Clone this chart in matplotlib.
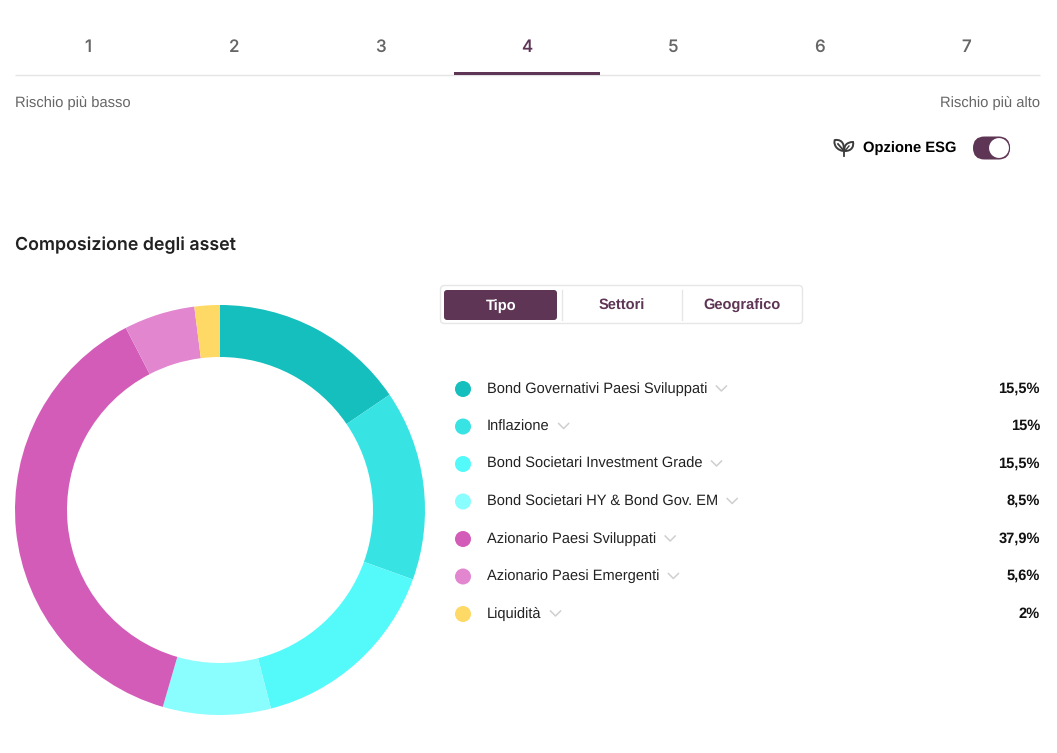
import matplotlib
matplotlib.use('Agg')
import matplotlib.pyplot as plt
from matplotlib.patches import FancyBboxPatch, Circle, PathPatch, Rectangle
from matplotlib.path import Path

plt.rcParams['text.hinting'] = 'no_hinting'
plt.rcParams['text.hinting_factor'] = 8

### DATA ###
risk_levels = ['1', '2', '3', '4', '5', '6', '7']
active_level = '4'
categories = ['Bond Governativi Paesi Sviluppati', 'Inflazione', 'Bond Societari Investment Grade',
              'Bond Societari HY & Bond Gov. EM', 'Azionario Paesi Sviluppati',
              'Azionario Paesi Emergenti', 'Liquidità']
values = [15.5, 15, 15.5, 8.5, 37.9, 5.6, 2]
value_labels = ['15,5%', '15%', '15,5%', '8,5%', '37,9%', '5,6%', '2%']
colors = ['#14bfbd', '#38e3e3', '#54fafa', '#8afdff', '#d35cb8', '#e386d0', '#ffd966']
tabs = ['Tipo', 'Settori', 'Geografico']

W, H = 1057, 753
PLUM = '#5e3555'
BODY = 'Liberation Sans'
HEAD = 'Inter'


def px(n):
    # font size in points for a size in pixels at dpi 100
    return n * 0.72


fig = plt.figure(figsize=(W / 100, H / 100), dpi=100, facecolor='white')

# page layer, in pixels with the origin top left
ax = fig.add_axes([0, 0, 1, 1])
ax.set_xlim(0, W)
ax.set_ylim(H, 0)
ax.axis('off')

### RISK SCALE ###
for i, level in enumerate(risk_levels):
    x = 88 + i * 146.5
    col = PLUM if level == active_level else '#666666'
    ax.text(x - 0.5, 47, level, ha='center', va='center', fontsize=px(17), color=col,
            family=HEAD, fontweight='medium')
ax.plot([15, 1040], [75.2, 75.2], color='#e4e4e4', lw=1, solid_capstyle='butt')
ax.add_patch(Rectangle((453.5, 72), 146.5, 3, fc=PLUM, ec='none', zorder=3))

ax.text(15, 102.5, 'Rischio più basso', ha='left', va='center', fontsize=px(14.7), color='#666666', family=BODY)
ax.text(1040, 102.5, 'Rischio più alto', ha='right', va='center', fontsize=px(14.7), color='#666666', family=BODY)

### ESG TOGGLE ###
leaf_style = dict(fc='none', ec='#3c3c3c', lw=1.4)
ax.add_patch(PathPatch(Path([(843, 151), (833, 149), (834, 140), (835, 140), (843, 139), (845, 146), (843, 151)],
                            [Path.MOVETO, Path.CURVE4, Path.CURVE4, Path.CURVE4, Path.CURVE4, Path.CURVE4, Path.CURVE4]),
                       **leaf_style))
ax.add_patch(PathPatch(Path([(845, 151), (852, 151), (854, 146), (853, 142), (847, 142), (843, 146), (845, 151)],
                            [Path.MOVETO, Path.CURVE4, Path.CURVE4, Path.CURVE4, Path.CURVE4, Path.CURVE4, Path.CURVE4]),
                       **leaf_style))
ax.plot([838, 844, 844], [144, 151, 156], color='#3c3c3c', lw=1.3)
ax.plot([844, 849], [152, 146], color='#3c3c3c', lw=1)

ax.text(863, 148.5, 'Opzione ESG', ha='left', va='center', fontsize=px(14.7), color='#000000',
        family=BODY, fontweight='bold')
ax.add_patch(FancyBboxPatch((973, 136.5), 37, 23, boxstyle='round,pad=0,rounding_size=11.5',
                            fc=PLUM, ec='none'))
ax.add_patch(Circle((999, 148), 10.5, fc='white', ec=PLUM, lw=0.8, zorder=3))

### HEADING ###
ax.text(15, 245.5, 'Composizione degli asset', ha='left', va='center', fontsize=px(17.8), color='#222222',
        family=HEAD, fontweight='semibold')

### TAB SWITCH ###
ax.add_patch(FancyBboxPatch((440.5, 285.5), 362, 38, boxstyle='round,pad=0,rounding_size=4',
                            fc='white', ec='#e6e6e6', lw=1))
ax.add_patch(FancyBboxPatch((444, 290), 113, 30, boxstyle='round,pad=0,rounding_size=3',
                            fc=PLUM, ec='none'))
for x in [561.5, 681.5]:
    ax.plot([x, x], [290, 320], color='#e6e6e6', lw=1)
for name, x in zip(tabs, [501.5, 622, 742]):
    col = 'white' if name == tabs[0] else PLUM
    ax.text(x, 306, name, ha='center', va='center', fontsize=px(14.6), color=col, family=BODY, fontweight='bold')

### LEGEND ROWS ###
for i, (name, label, col) in enumerate(zip(categories, value_labels, colors)):
    y = 388.5 + i * 37.5
    ax.add_patch(Circle((463, y + 0.5), 8, fc=col, ec='none'))
    t = ax.text(487, y + 0.5, name, ha='left', va='center', fontsize=px(14.6), color='#222222', family=BODY)
    # little chevron right after the label
    fig.canvas.draw()
    end = t.get_window_extent().x1
    ax.plot([end + 9, end + 14, end + 19], [y - 2.5, y + 2.5, y - 2.5], color='#cfcfcf', lw=1.1)
    ax.text(1040, y, label, ha='right', va='center', fontsize=px(14.6), color='#111111', family=BODY,
            fontweight='bold')

### DONUT ###
cx, cy, r = 220, 510, 205
pie_ax = fig.add_axes([(cx - r) / W, 1 - (cy + r) / H, 2 * r / W, 2 * r / H])
pie_ax.pie(values, colors=colors, startangle=90, counterclock=False, radius=1,
           wedgeprops=dict(width=52 / r, linewidth=0))
pie_ax.set_xlim(-1, 1)
pie_ax.set_ylim(-1, 1)

fig.savefig('out.png', dpi=100)
